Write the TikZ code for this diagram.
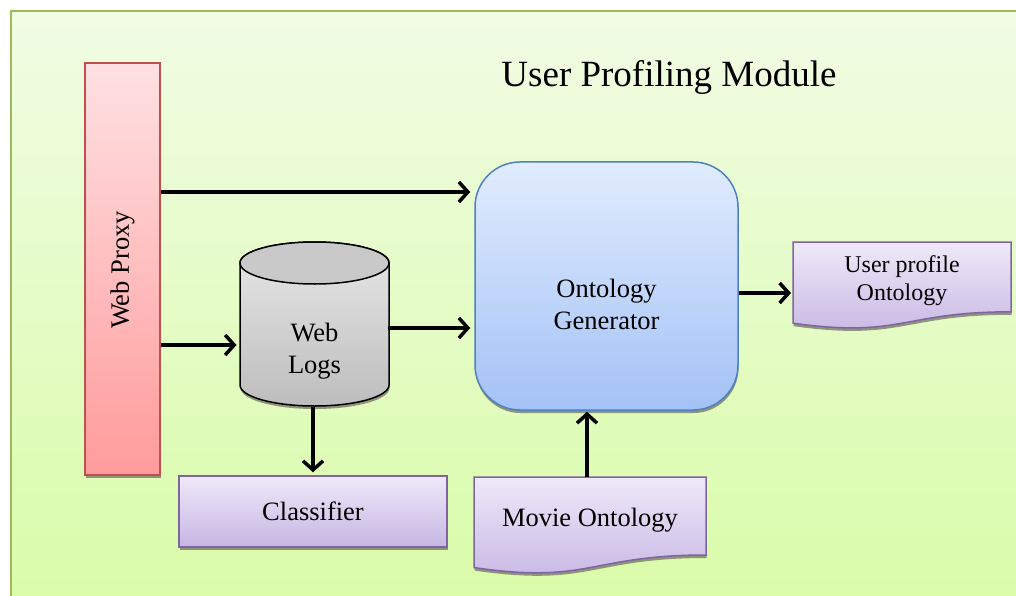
\documentclass[tikz,border=0pt]{standalone}
\usepackage{fontspec}
\setmainfont{Liberation Serif}
\usetikzlibrary{arrows.meta,shadows}
\definecolor{bgborder}{HTML}{9BBB59}
\definecolor{bgtop}{HTML}{F1FCE4}
\definecolor{bgbot}{HTML}{D9FCA9}
\definecolor{proxyborder}{HTML}{C0504D}
\definecolor{proxytop}{HTML}{FFE1E3}
\definecolor{proxybot}{HTML}{FF9B9B}
\definecolor{purpborder}{HTML}{8064A2}
\definecolor{purptop}{HTML}{EFE9F9}
\definecolor{purpbot}{HTML}{C6B6E3}
\definecolor{genborder}{HTML}{4F81BD}
\definecolor{gentop}{HTML}{E1ECFE}
\definecolor{genbot}{HTML}{A3C2F6}
\definecolor{cyltop}{HTML}{E8E8E8}
\definecolor{cylbot}{HTML}{BDBDBD}
\definecolor{cyllid}{HTML}{C9C9C9}
\definecolor{shadowc}{HTML}{7A7A6A}
\begin{document}
\begin{tikzpicture}[x=1pt,y=-1pt,
  conn/.style={line width=3.5pt,-{Straight Barb[length=9pt,width=20pt,line width=3.5pt]}},
  shadowed/.style={drop shadow={shadow xshift=0.5pt,shadow yshift=-3pt,fill=shadowc,opacity=0.8}},
  txt/.style={font=\fontsize{26.5}{32}\selectfont, align=center, inner sep=0pt},
  smalltxt/.style={font=\fontsize{24}{28}\selectfont, align=center, inner sep=0pt},
  purplebox/.style={draw=purpborder, line width=1.5pt, top color=purptop, bottom color=purpbot},
  ghost/.style={inner sep=0pt, outer sep=0pt}]
% background
\path[use as bounding box] (0,0) rectangle (1016,596);
\fill[white] (0,0) rectangle (1016,596);
\shade[top color=bgtop, bottom color=bgbot] (11,11) rectangle (1016,596);
\draw[bgborder, line width=2pt] (11,596) -- (11,11) -- (1016,11);

% title
\node[font=\fontsize{37}{44}\selectfont, inner sep=0pt] (title) at (669,77) {User Profiling Module};

% web proxy
\node[draw=proxyborder, line width=1.5pt, top color=proxytop, bottom color=proxybot,
      minimum width=75pt, minimum height=412pt, shadowed] (proxy) at (122.5,269) {};
\node[txt, rotate=90] (proxylabel) at (122.5,270) {Web Proxy};

% web logs cylinder
\begin{scope}[shift={(0.5,3)}]
\fill[shadowc, opacity=0.8] (240,263) -- (240,385) arc[start angle=180,end angle=360,x radius=74.5pt,y radius=21pt] -- (389,263) -- cycle;
\end{scope}
\path[draw=black, line width=1.5pt, top color=cyltop, bottom color=cylbot]
  (240,263) -- (240,385) arc[start angle=180,end angle=360,x radius=74.5pt,y radius=21pt]
  -- (389,263) arc[start angle=0,end angle=180,x radius=74.5pt,y radius=21pt] -- cycle;
\filldraw[fill=cyllid, draw=black, line width=1.5pt] (314.5,263) ellipse [x radius=74.5pt, y radius=21pt];
\node[ghost, minimum width=149pt, minimum height=164pt] (logs) at (313,324) {};
\node[txt] (logslabel) at (314.5,351) {Web\\Logs};

% ontology generator
\node[draw=genborder, line width=1.5pt, rounded corners=45pt, top color=gentop, bottom color=genbot,
      minimum width=263pt, minimum height=248pt, shadowed] (gen) at (606.5,286) {};
\node[txt] (genlabel) at (606.5,304) {Ontology\\Generator};

% classifier
\node[purplebox, minimum width=268pt, minimum height=71pt, shadowed, txt] (classifier) at (313,511.5) {Classifier};

% movie ontology (document shape)
\begin{scope}[shift={(0.5,3)}]
\fill[shadowc, opacity=0.8] (474,477) -- (706,477) -- (706,555) .. controls (590,555) and (590,584.4) .. (474,567.6) -- cycle;
\end{scope}
\path[purplebox] (474,477) -- (706,477) -- (706,555) .. controls (590,555) and (590,584.4) .. (474,567.6) -- cycle;
\node[ghost, minimum width=226pt, minimum height=78pt] (movie) at (587,516) {};
\node[txt] (movielabel) at (590,520) {Movie Ontology};

% user profile ontology (document shape)
\begin{scope}[shift={(0.5,3)}]
\fill[shadowc, opacity=0.8] (793,242) -- (1011,242) -- (1011,311.8) .. controls (902,311.8) and (902,338.4) .. (793,323.2) -- cycle;
\end{scope}
\path[purplebox] (793,242) -- (1011,242) -- (1011,311.8) .. controls (902,311.8) and (902,338.4) .. (793,323.2) -- cycle;
\node[ghost, minimum width=218pt, minimum height=70pt] (profile) at (902,277) {};
\node[smalltxt] (profilelabel) at (902,281) {User profile\\Ontology};

% connectors
\draw[conn, shorten >=4pt] (proxy.east |- 0,192) -- (gen.west |- 0,192);
\draw[conn, shorten >=2pt] (proxy.east |- 0,345) -- (logs.west |- 0,345);
\draw[conn, shorten >=4pt] (logs.east |- 0,328) -- (gen.west |- 0,328);
\draw[conn, shorten <=1pt, shorten >=3pt] (logs.south) -- (logs.south |- classifier.north);
\draw[conn, shorten >=1pt] (movie.north) -- (movie.north |- gen.south);
\draw[conn, shorten >=2pt] (gen.east |- 0,293) -- (profile.west |- 0,293);
\end{tikzpicture}
\end{document}
